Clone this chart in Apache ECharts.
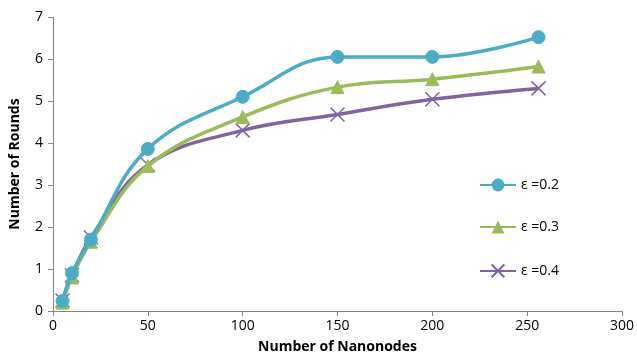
<!DOCTYPE html>
<html><head><meta charset="utf-8">
<script src="https://cdn.jsdelivr.net/npm/echarts@6/dist/echarts.min.js"></script>
<style>html,body{margin:0;padding:0;background:#fff}#c{width:637px;height:362px}</style>
</head><body><div id="c"></div>
<script>
const xValues = [5, 10, 20, 50, 100, 150, 200, 256];
const seriesNames = ['ε =0.2', 'ε =0.3', 'ε =0.4'];
const eps02 = [0.24, 0.9, 1.7, 3.86, 5.1, 6.05, 6.05, 6.52];
const eps03 = [0.2, 0.8, 1.65, 3.45, 4.62, 5.33, 5.52, 5.82];
const eps04 = [0.25, 0.85, 1.75, 3.48, 4.3, 4.68, 5.04, 5.3];
const colors = ['#4BACC6', '#9BBB59', '#8064A2'];
const symbols = ['circle', 'triangle', 'path://M0,0L10,10M10,0L0,10'];
const symbolSizes = [13, 13, 14];
const font = 'Open Sans, Liberation Sans, sans-serif';

const chart = echarts.init(document.getElementById('c'));
const series = [eps02, eps03, eps04].map((vals, i) => ({
  name: seriesNames[i],
  type: 'line',
  smooth: 0.4,
  data: xValues.map((x, j) => [x, vals[j]]),
  symbol: symbols[i],
  symbolSize: symbolSizes[i],
  lineStyle: { color: colors[i], width: 3.5 },
  itemStyle: i === 2 ? { color: 'none', borderColor: colors[i], borderWidth: 1.5 } : { color: colors[i], borderColor: colors[i] },
  z: 3 - i
}));

chart.setOption({
  animation: false,
  color: colors,
  grid: { left: 52, right: 15, top: 17, bottom: 51 },
  legend: {
    orient: 'vertical',
    left: 474, top: 173,
    itemGap: 28,
    itemWidth: 36, itemHeight: 16,
    textStyle: { fontFamily: font, fontSize: 14, color: '#000' },
    data: seriesNames
  },
  xAxis: {
    type: 'value', min: 0, max: 300, interval: 50,
    name: 'Number of Nanonodes', nameLocation: 'middle', nameGap: 29,
    nameTextStyle: { fontFamily: font, fontSize: 14, fontWeight: 'bold', color: '#000' },
    axisLine: { lineStyle: { color: '#868686' } },
    axisTick: { show: true, length: 5, lineStyle: { color: '#868686' } },
    axisLabel: { fontFamily: font, fontSize: 14, color: '#000', margin: 8 },
    splitLine: { show: false }
  },
  yAxis: {
    type: 'value', min: 0, max: 7, interval: 1,
    name: 'Number of Rounds', nameLocation: 'middle', nameGap: 31,
    nameTextStyle: { fontFamily: font, fontSize: 14, fontWeight: 'bold', color: '#000' },
    axisLine: { show: true, lineStyle: { color: '#868686' } },
    axisTick: { show: true, length: 5, lineStyle: { color: '#868686' } },
    axisLabel: { fontFamily: font, fontSize: 14, color: '#000', margin: 10 },
    splitLine: { show: false }
  },
  series: series
});
</script></body></html>
